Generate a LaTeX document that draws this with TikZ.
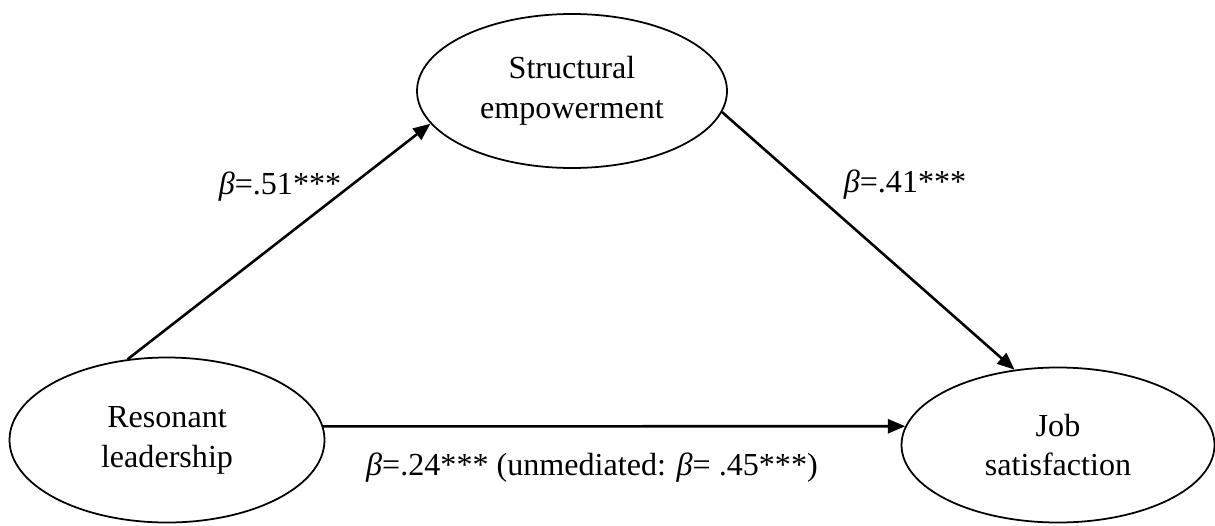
\documentclass[tikz,border=0pt]{standalone}
\usepackage{fontspec}
\setmainfont{Liberation Serif}
\usetikzlibrary{arrows.meta, shapes.geometric}

\begin{document}
\begin{tikzpicture}[
  var/.style={draw, ellipse, line width=0.75pt, inner sep=0pt, align=center, font=\fontsize{13.7}{17}\selectfont},
  path/.style={line width=1.1pt, -{Triangle[length=2.6mm, width=2.1mm]}},
  coef/.style={inner sep=0pt, font=\fontsize{13.7}{17}\selectfont}
]
\useasboundingbox (0, 0) rectangle (18.225, 7.875);
\node[var, minimum width=4.65cm, minimum height=2.31cm] (se) at (8.58, 6.51) {Structural\\empowerment};
\node[var, minimum width=4.725cm, minimum height=2.475cm] (rl) at (2.505, 1.275) {Resonant\\leadership};
\node[var, minimum width=4.695cm, minimum height=2.325cm] (js) at (15.87, 1.2) {Job\\satisfaction};
\draw[path] (rl.116) -- (se.193);
\draw[path] (se.-8) -- (js.120);
\draw[path] (rl.5) -- (js.173);
\node[coef] (b1) at (4.2, 5.07) {\textit{β}=.51***};
\node[coef] (b2) at (13.575, 5.1) {\textit{β}=.41***};
\node[coef] (b3) at (8.88, 0.855) {\textit{β}=.24*** (unmediated: \textit{β}= .45***)};
\end{tikzpicture}
\end{document}
